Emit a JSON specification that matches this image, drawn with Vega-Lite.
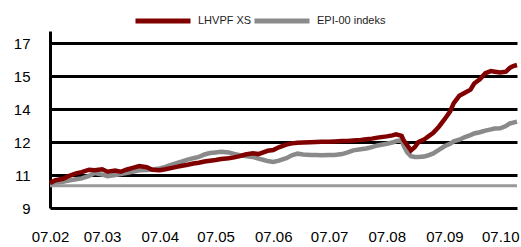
{
  "$schema": "https://vega.github.io/schema/vega-lite/v6.json",
  "width": 467,
  "height": 177,
  "autosize": {"type": "none"},
  "padding": {"left": 50, "top": 31, "right": 4, "bottom": 39},
  "background": "white",
  "config": {
    "view": {"stroke": null},
    "font": "Liberation Sans",
    "axisY": {
      "grid": true, "gridColor": "#000000", "gridWidth": 3, "gridOpacity": 1,
      "domain": true, "domainColor": "#000000", "domainWidth": 3,
      "ticks": false, "labelFontSize": 15, "labelColor": "#000000", "labelPadding": 20,
      "title": null
    },
    "axisX": {
      "grid": false, "domain": false, "ticks": false,
      "labelFontSize": 15, "labelColor": "#000000", "labelPadding": 21, "title": null
    },
    "legend": {
      "orient": "none", "legendX": 83, "legendY": -40, "direction": "horizontal",
      "symbolType": "stroke", "symbolSize": 3025, "symbolStrokeWidth": 5,
      "labelFontSize": 11, "labelColor": "#222222", "labelOffset": 5, "columnPadding": -10,
      "title": null
    }
  },
  "encoding": {
    "x": {
      "field": "d", "type": "temporal", "title": null,
      "scale": {"domain": [{"year": 2007, "month": 2, "date": 1}, {"year": 2007, "month": 10, "date": 10}]},
      "axis": {
        "title": null, "labelFontSize": 15, "format": "%y.%m",
        "labelOverlap": false, "labelFlush": false,
        "values": [
          {"year": 2007, "month": 2, "date": 1},
          {"year": 2007, "month": 3, "date": 1},
          {"year": 2007, "month": 4, "date": 1},
          {"year": 2007, "month": 5, "date": 1},
          {"year": 2007, "month": 6, "date": 1},
          {"year": 2007, "month": 7, "date": 1},
          {"year": 2007, "month": 8, "date": 1},
          {"year": 2007, "month": 9, "date": 1},
          {"year": 2007, "month": 10, "date": 1}
        ]
      }
    },
    "y": {
      "field": "value", "type": "quantitative", "title": null,
      "scale": {"domain": [9, 17.6], "nice": false, "zero": false},
      "axis": {"values": [9, 10.6, 12.2, 13.8, 15.4, 17], "format": ".0f", "title": null, "labelFontSize": 15}
    }
  },
  "layer": [
    {
      "data": {"values": [{"d": "2007-02-01", "value": 10.08}, {"d": "2007-10-10", "value": 10.08}]},
      "mark": {"type": "line", "color": "#999999", "strokeWidth": 3}
    },
    {
      "data": {
        "values": [
          {"d": "2007-02-01", "lhv": 10.22, "epi": 10.20},
          {"d": "2007-02-04", "lhv": 10.35, "epi": 10.24},
          {"d": "2007-02-08", "lhv": 10.42, "epi": 10.28},
          {"d": "2007-02-11", "lhv": 10.55, "epi": 10.33},
          {"d": "2007-02-15", "lhv": 10.68, "epi": 10.40},
          {"d": "2007-02-18", "lhv": 10.74, "epi": 10.44},
          {"d": "2007-02-22", "lhv": 10.86, "epi": 10.56},
          {"d": "2007-02-25", "lhv": 10.84, "epi": 10.70},
          {"d": "2007-03-01", "lhv": 10.88, "epi": 10.62},
          {"d": "2007-03-04", "lhv": 10.76, "epi": 10.55},
          {"d": "2007-03-08", "lhv": 10.82, "epi": 10.60},
          {"d": "2007-03-11", "lhv": 10.76, "epi": 10.65},
          {"d": "2007-03-14", "lhv": 10.86, "epi": 10.70},
          {"d": "2007-03-18", "lhv": 10.96, "epi": 10.77},
          {"d": "2007-03-21", "lhv": 11.04, "epi": 10.83},
          {"d": "2007-03-25", "lhv": 10.98, "epi": 10.85},
          {"d": "2007-03-28", "lhv": 10.86, "epi": 10.87},
          {"d": "2007-04-01", "lhv": 10.84, "epi": 10.92},
          {"d": "2007-04-04", "lhv": 10.88, "epi": 11.00},
          {"d": "2007-04-07", "lhv": 10.94, "epi": 11.10},
          {"d": "2007-04-10", "lhv": 11.00, "epi": 11.18},
          {"d": "2007-04-13", "lhv": 11.05, "epi": 11.26},
          {"d": "2007-04-16", "lhv": 11.10, "epi": 11.35},
          {"d": "2007-04-19", "lhv": 11.16, "epi": 11.42},
          {"d": "2007-04-22", "lhv": 11.20, "epi": 11.48},
          {"d": "2007-04-25", "lhv": 11.26, "epi": 11.60},
          {"d": "2007-04-28", "lhv": 11.30, "epi": 11.67},
          {"d": "2007-05-01", "lhv": 11.33, "epi": 11.70},
          {"d": "2007-05-04", "lhv": 11.38, "epi": 11.73},
          {"d": "2007-05-08", "lhv": 11.42, "epi": 11.70},
          {"d": "2007-05-11", "lhv": 11.46, "epi": 11.63},
          {"d": "2007-05-14", "lhv": 11.52, "epi": 11.57},
          {"d": "2007-05-17", "lhv": 11.60, "epi": 11.53},
          {"d": "2007-05-21", "lhv": 11.66, "epi": 11.48},
          {"d": "2007-05-24", "lhv": 11.62, "epi": 11.40},
          {"d": "2007-05-27", "lhv": 11.72, "epi": 11.33},
          {"d": "2007-05-29", "lhv": 11.78, "epi": 11.28},
          {"d": "2007-06-01", "lhv": 11.82, "epi": 11.24},
          {"d": "2007-06-04", "lhv": 11.95, "epi": 11.30},
          {"d": "2007-06-08", "lhv": 12.08, "epi": 11.42},
          {"d": "2007-06-11", "lhv": 12.14, "epi": 11.56},
          {"d": "2007-06-14", "lhv": 12.17, "epi": 11.64},
          {"d": "2007-06-17", "lhv": 12.18, "epi": 11.60},
          {"d": "2007-06-21", "lhv": 12.20, "epi": 11.57},
          {"d": "2007-06-24", "lhv": 12.21, "epi": 11.58},
          {"d": "2007-06-27", "lhv": 12.22, "epi": 11.56},
          {"d": "2007-07-01", "lhv": 12.22, "epi": 11.58},
          {"d": "2007-07-04", "lhv": 12.23, "epi": 11.58},
          {"d": "2007-07-08", "lhv": 12.25, "epi": 11.62},
          {"d": "2007-07-11", "lhv": 12.26, "epi": 11.70},
          {"d": "2007-07-14", "lhv": 12.28, "epi": 11.80},
          {"d": "2007-07-18", "lhv": 12.31, "epi": 11.85},
          {"d": "2007-07-21", "lhv": 12.34, "epi": 11.89},
          {"d": "2007-07-24", "lhv": 12.37, "epi": 11.96},
          {"d": "2007-07-27", "lhv": 12.42, "epi": 12.04},
          {"d": "2007-08-01", "lhv": 12.48, "epi": 12.12},
          {"d": "2007-08-04", "lhv": 12.53, "epi": 12.18},
          {"d": "2007-08-06", "lhv": 12.58, "epi": 12.25},
          {"d": "2007-08-09", "lhv": 12.50, "epi": 12.30},
          {"d": "2007-08-10", "lhv": 12.30, "epi": 12.05},
          {"d": "2007-08-12", "lhv": 12.05, "epi": 11.70},
          {"d": "2007-08-14", "lhv": 11.80, "epi": 11.52},
          {"d": "2007-08-16", "lhv": 11.95, "epi": 11.48},
          {"d": "2007-08-18", "lhv": 12.20, "epi": 11.48},
          {"d": "2007-08-21", "lhv": 12.32, "epi": 11.50},
          {"d": "2007-08-23", "lhv": 12.46, "epi": 11.55},
          {"d": "2007-08-26", "lhv": 12.65, "epi": 11.65},
          {"d": "2007-08-29", "lhv": 12.95, "epi": 11.82},
          {"d": "2007-09-01", "lhv": 13.30, "epi": 12.00},
          {"d": "2007-09-04", "lhv": 13.68, "epi": 12.12},
          {"d": "2007-09-06", "lhv": 14.10, "epi": 12.24},
          {"d": "2007-09-09", "lhv": 14.45, "epi": 12.32},
          {"d": "2007-09-12", "lhv": 14.60, "epi": 12.45},
          {"d": "2007-09-15", "lhv": 14.75, "epi": 12.54},
          {"d": "2007-09-17", "lhv": 15.05, "epi": 12.62},
          {"d": "2007-09-20", "lhv": 15.25, "epi": 12.68},
          {"d": "2007-09-23", "lhv": 15.55, "epi": 12.76},
          {"d": "2007-09-26", "lhv": 15.65, "epi": 12.82},
          {"d": "2007-09-28", "lhv": 15.62, "epi": 12.86},
          {"d": "2007-10-01", "lhv": 15.58, "epi": 12.87},
          {"d": "2007-10-04", "lhv": 15.62, "epi": 12.98},
          {"d": "2007-10-06", "lhv": 15.80, "epi": 13.10},
          {"d": "2007-10-08", "lhv": 15.90, "epi": 13.15},
          {"d": "2007-10-10", "lhv": 15.95, "epi": 13.20}
        ]
      },
      "transform": [{"fold": ["epi", "lhv"], "as": ["series", "value"]}],
      "mark": {"type": "line", "strokeWidth": 4.5, "interpolate": "linear"},
      "encoding": {
        "color": {
          "field": "series", "type": "nominal",
          "scale": {"domain": ["lhv", "epi"], "range": ["#800000", "#8a8a8a"]},
          "legend": {"labelExpr": "datum.label == 'lhv' ? 'LHVPF XS' : 'EPI-00 indeks'"}
        }
      }
    }
  ]
}
